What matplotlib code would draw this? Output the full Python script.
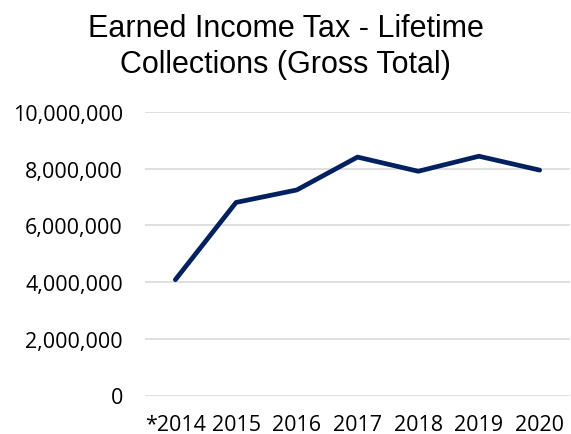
import matplotlib
matplotlib.use("Agg")
import matplotlib.pyplot as plt
from matplotlib.ticker import FuncFormatter

years = ["*2014", "2015", "2016", "2017", "2018", "2019", "2020"]
collections = [4085000, 6810000, 7250000, 8410000, 7910000, 8440000, 7950000]
y_ticks = [0, 2000000, 4000000, 6000000, 8000000, 10000000]


def make_plot():
    fig = plt.figure(figsize=(5.71, 4.35), dpi=100)
    ax = fig.add_axes([145 / 571, 1 - 396.5 / 435, 425 / 571, (396.5 - 113) / 435])

    x = list(range(len(years)))
    ax.plot(x, collections, color="#002060", linewidth=3.4,
            solid_capstyle="round", solid_joinstyle="round", zorder=3)

    ax.set_xlim(-0.5, len(years) - 0.5)
    ax.set_ylim(0, 10000000)
    ax.set_yticks(y_ticks)
    ax.yaxis.set_major_formatter(FuncFormatter(lambda v, p: f"{int(v):,}"))
    ax.set_xticks(x)
    ax.set_xticklabels(years)

    ax.grid(axis="y", color="#d9d9d9", linewidth=1.2, zorder=0)
    for s in ax.spines.values():
        s.set_visible(False)
    ax.tick_params(length=0, labelsize=15.5, labelcolor="#000000")
    ax.tick_params(axis="y", pad=16)
    ax.tick_params(axis="x", pad=13)
    for lab in ax.get_xticklabels() + ax.get_yticklabels():
        lab.set_family("Open Sans")

    fig.text(0.5, 1 - 47 / 435, "Earned Income Tax - Lifetime\nCollections (Gross Total)",
             ha="center", va="center", fontsize=22, family="Liberation Sans",
             linespacing=1.29)

    fig.savefig("out.png", dpi=100)


if __name__ == "__main__":
    make_plot()
